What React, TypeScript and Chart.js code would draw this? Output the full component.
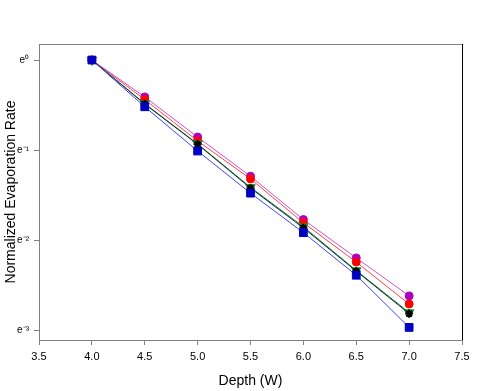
import React, { useEffect, useRef } from "react";
import { Chart, registerables } from "chart.js";

Chart.register(...registerables);

const depths = [4.0, 4.5, 5.0, 5.5, 6.0, 6.5, 7.0];
const magentaSeries = [1.0, 0.664, 0.425, 0.275, 0.17, 0.111, 0.0728];
const redSeries = [1.0, 0.644, 0.407, 0.267, 0.164, 0.106, 0.0665];
const greenSeries = [1.0, 0.616, 0.394, 0.243, 0.157, 0.0965, 0.0605];
const blackSeries = [1.0, 0.613, 0.392, 0.241, 0.155, 0.0958, 0.0598];
const blueSeries = [1.0, 0.595, 0.364, 0.228, 0.147, 0.0916, 0.0513];

const xTicks = [3.5, 4.0, 4.5, 5.0, 5.5, 6.0, 6.5, 7.0, 7.5];
const yTickExponents = [0, -1, -2, -3];
const yTickLabels = ["e\u2070", "e\u207B\u00B9", "e\u207B\u00B2", "e\u207B\u00B3"];

const FONT = "'Liberation Sans', Arial, sans-serif";

export default function App() {
  const ref = useRef<HTMLCanvasElement | null>(null);

  useEffect(() => {
    if (!ref.current) return;
    const mk = (data: number[]) => depths.map((x, i) => ({ x, y: data[i] }));
    const frame = {
      id: "frame",
      afterDraw(chart: any) {
        const { ctx, chartArea: a } = chart;
        ctx.save();
        ctx.lineWidth = 1;
        ctx.strokeStyle = "#808080";
        ctx.beginPath();
        ctx.moveTo(a.left, a.top + 0.5);
        ctx.lineTo(a.right, a.top + 0.5);
        ctx.stroke();
        ctx.strokeStyle = "#000000";
        ctx.beginPath();
        ctx.moveTo(a.right + 0.5, a.top);
        ctx.lineTo(a.right + 0.5, a.bottom);
        ctx.stroke();
        ctx.restore();
      },
    };
    const chart = new Chart(ref.current, {
      type: "line",
      data: {
        datasets: [
          {
            label: "magenta",
            data: mk(magentaSeries),
            order: 5,
            borderColor: "#d050d0",
            backgroundColor: "#b000c0",
            pointBorderColor: "#b000c0",
            pointStyle: "circle",
            pointRadius: 4,
            borderWidth: 1,
          },
          {
            label: "red",
            data: mk(redSeries),
            order: 4,
            borderColor: "#ff4040",
            backgroundColor: "#ff0000",
            pointBorderColor: "#ff0000",
            pointStyle: "circle",
            pointRadius: 4,
            borderWidth: 1,
          },
          {
            label: "green",
            data: mk(greenSeries),
            order: 3,
            borderColor: "#00804a",
            backgroundColor: "#10a040",
            pointBorderColor: "#10a040",
            pointStyle: "triangle",
            rotation: 180,
            pointRadius: 5.5,
            borderWidth: 1,
          },
          {
            label: "black",
            data: mk(blackSeries),
            order: 2,
            borderColor: "#103020",
            backgroundColor: "#000000",
            pointBorderColor: "#000000",
            pointStyle: "star",
            pointRadius: 4,
            pointBorderWidth: 2,
            borderWidth: 1,
          },
          {
            label: "blue",
            data: mk(blueSeries),
            order: 1,
            borderColor: "#4040ff",
            backgroundColor: "#0000c0",
            pointBorderColor: "#0000c0",
            pointStyle: "rect",
            pointRadius: 5.5,
            borderWidth: 1,
          },
        ],
      },
      options: {
        responsive: false,
        animation: false,
        layout: { padding: { left: 0, top: 44, right: 23, bottom: 0 } },
        plugins: { legend: { display: false }, tooltip: { enabled: false } },
        scales: {
          x: {
            type: "linear",
            min: 3.5,
            max: 7.5,
            afterBuildTicks: (s: any) => {
              s.ticks = xTicks.map((v) => ({ value: v }));
            },
            afterFit: (s: any) => {
              s.height = 51;
            },
            ticks: {
              color: "#000",
              font: { family: FONT, size: 11 },
              padding: 5,
              maxRotation: 0,
              callback: (v: any) => Number(v).toFixed(1),
            },
            grid: { drawOnChartArea: false, drawTicks: true, tickLength: 5, color: "#808080" },
            border: { color: "#808080" },
            title: {
              display: true,
              text: "Depth (W)",
              color: "#000",
              font: { family: FONT, size: 14 },
              padding: { top: 0, bottom: 1 },
            },
          },
          y: {
            type: "logarithmic",
            min: Math.exp(-3.11),
            max: Math.exp(0.178),
            afterBuildTicks: (s: any) => {
              s.ticks = yTickExponents.map((n) => ({ value: Math.exp(n) }));
            },
            afterFit: (s: any) => {
              s.width = 39;
            },
            ticks: {
              color: "#000",
              font: { family: FONT, size: 10 },
              padding: 5,
              callback: (_v: any, i: number) => yTickLabels[i],
            },
            grid: { drawOnChartArea: false, drawTicks: true, tickLength: 5, color: "#808080" },
            border: { color: "#808080" },
            title: {
              display: true,
              text: "Normalized Evaporation Rate",
              color: "#000",
              font: { family: FONT, size: 14 },
              padding: { top: 3, bottom: 0 },
            },
          },
        },
      },
      plugins: [frame],
    } as any);
    return () => chart.destroy();
  }, []);

  return (
    <div style={{ position: "absolute", left: 0, top: 0, width: 485, height: 391, background: "#fff" }}>
      <canvas ref={ref} width={485} height={391} />
    </div>
  );
}
